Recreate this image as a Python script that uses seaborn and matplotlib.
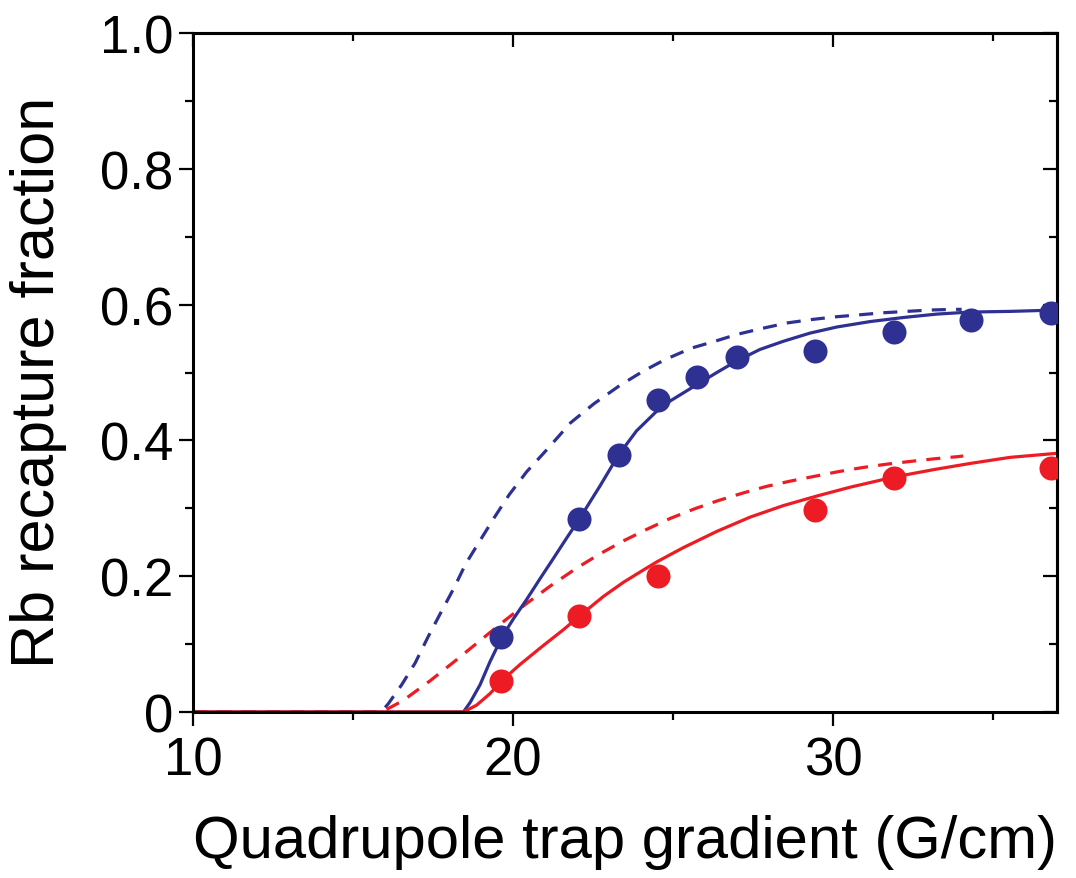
import numpy as np
import pandas as pd
import matplotlib
matplotlib.use("Agg")
import matplotlib.pyplot as plt
from matplotlib.ticker import FixedLocator, FuncFormatter
import seaborn as sns

# ---- data ----
blue_pts_x = [19.63, 22.06, 23.31, 24.53, 25.75, 27.0, 29.44, 31.9, 34.3, 36.8]
blue_pts_y = [0.110, 0.284, 0.378, 0.459, 0.494, 0.523, 0.532, 0.560, 0.577, 0.588]
red_pts_x = [19.63, 22.06, 24.53, 29.44, 31.9, 36.8]
red_pts_y = [0.046, 0.141, 0.200, 0.297, 0.345, 0.360]

blue_fit_x = [10.0, 18.45, 18.66, 18.97, 19.28, 19.65, 20.01, 20.43, 20.84, 21.26, 21.66,
              22.07, 22.72, 23.29, 23.86, 24.49, 24.91, 25.74, 26.37, 26.99, 27.72, 28.45,
              29.28, 30.12, 31.16, 32.2, 33.24, 34.28, 35.53, 37.0]
blue_fit_y = [0.0, 0.0, 0.014, 0.040, 0.074, 0.110, 0.137, 0.166, 0.196, 0.226, 0.255,
              0.284, 0.333, 0.378, 0.414, 0.443, 0.458, 0.482, 0.500, 0.517, 0.534, 0.546,
              0.558, 0.567, 0.575, 0.581, 0.586, 0.589, 0.590, 0.592]
red_fit_x = [10.0, 18.45, 18.86, 19.28, 19.65, 20.22, 20.95, 21.57, 22.07, 22.82, 23.45,
             24.07, 24.49, 25.32, 26.37, 27.41, 28.45, 29.49, 30.53, 31.9, 33.15, 34.28,
             35.53, 37.0]
red_fit_y = [0.0, 0.0, 0.010, 0.027, 0.046, 0.070, 0.098, 0.121, 0.141, 0.170, 0.191,
             0.209, 0.221, 0.242, 0.266, 0.287, 0.304, 0.318, 0.331, 0.346, 0.357, 0.366,
             0.375, 0.381]
blue_dash_x = [10.0, 15.88, 16.1, 16.52, 16.94, 17.35, 17.74, 18.16, 18.52, 18.99, 19.41,
               19.88, 20.43, 21.07, 21.80, 22.53, 23.34, 24.07, 24.75, 25.58, 26.31, 26.99,
               27.79, 28.57, 29.33, 30.08, 30.84, 31.57, 32.3, 33.03, 33.78, 34.02]
blue_dash_y = [0.0, 0.0, 0.012, 0.040, 0.072, 0.111, 0.146, 0.183, 0.218, 0.254, 0.286,
               0.320, 0.354, 0.387, 0.426, 0.454, 0.481, 0.502, 0.519, 0.536, 0.546, 0.556,
               0.565, 0.573, 0.578, 0.582, 0.585, 0.588, 0.590, 0.592, 0.593, 0.593]
red_dash_x = [10.0, 15.9, 16.57, 17.41, 18.16, 18.94, 19.67, 20.43, 21.18, 21.99, 22.72,
              23.45, 24.18, 24.91, 25.66, 26.39, 27.15, 27.9, 28.66, 29.41, 30.17, 30.92,
              31.68, 32.41, 33.19, 33.88, 34.07]
red_dash_y = [0.0, 0.0, 0.017, 0.046, 0.074, 0.104, 0.132, 0.160, 0.186, 0.212, 0.233,
              0.252, 0.269, 0.285, 0.299, 0.311, 0.322, 0.332, 0.340, 0.347, 0.354, 0.360,
              0.365, 0.369, 0.373, 0.376, 0.377]

x_ticks = [10, 20, 30]
x_minor = [15, 25, 35]
y_ticks = [0.0, 0.2, 0.4, 0.6, 0.8, 1.0]
y_minor = [0.1, 0.3, 0.5, 0.7, 0.9]

BLUE = "#2E3192"
RED = "#ED1C24"

sns.set_style("white")
plt.rcParams["font.family"] = ["Liberation Sans", "DejaVu Sans"]
plt.rcParams["text.color"] = "black"
plt.rcParams["axes.labelcolor"] = "black"
plt.rcParams["xtick.color"] = "black"
plt.rcParams["ytick.color"] = "black"
plt.rcParams["lines.solid_joinstyle"] = "round"
plt.rcParams["lines.dash_joinstyle"] = "round"

fig = plt.figure(figsize=(10.76, 8.79), dpi=100)
ax = fig.add_axes([193 / 1076, 1 - 713 / 879, (1057 - 193) / 1076, (713 - 34) / 879])

lw = 2.3
for xs, ys, col, ls in [(blue_dash_x, blue_dash_y, BLUE, (0, (4.4, 3.2))),
                        (red_dash_x, red_dash_y, RED, (0, (4.4, 3.2))),
                        (blue_fit_x, blue_fit_y, BLUE, "-"),
                        (red_fit_x, red_fit_y, RED, "-")]:
    df = pd.DataFrame({"x": xs, "y": ys})
    sns.lineplot(data=df, x="x", y="y", ax=ax, color=col, lw=lw, linestyle=ls,
                 sort=False, estimator=None)

sns.scatterplot(x=blue_pts_x, y=blue_pts_y, ax=ax, color=BLUE, s=300, linewidth=0, zorder=5)
sns.scatterplot(x=red_pts_x, y=red_pts_y, ax=ax, color=RED, s=300, linewidth=0, zorder=5)

ax.set_xlim(10, 37)
ax.set_ylim(0, 1.0)

for s in ax.spines.values():
    s.set_linewidth(2.2)
    s.set_color("black")
    s.set_visible(True)

ax.xaxis.set_major_locator(FixedLocator(x_ticks))
ax.xaxis.set_minor_locator(FixedLocator(x_minor))
ax.yaxis.set_major_locator(FixedLocator(y_ticks))
ax.yaxis.set_minor_locator(FixedLocator(y_minor))
ax.yaxis.set_major_formatter(FuncFormatter(lambda v, p: "0" if abs(v) < 1e-9 else f"{v:.1f}"))
ax.xaxis.set_major_formatter(FuncFormatter(lambda v, p: f"{v:.0f}"))

ax.tick_params(which="major", direction="out", length=10, width=1.6, labelsize=38,
               pad=4, color="black", labelcolor="black", left=True, bottom=True)
ax.tick_params(which="minor", direction="out", length=5.5, width=1.6, left=True, bottom=True)
ax.tick_params(axis="x", which="major", pad=7)

# top and right axes with inward ticks
top = ax.secondary_xaxis("top")
top.xaxis.set_major_locator(FixedLocator(x_ticks))
top.xaxis.set_minor_locator(FixedLocator(x_minor))
top.tick_params(which="major", direction="in", length=10, width=1.6, labeltop=False)
top.tick_params(which="minor", direction="in", length=5.5, width=1.6)
top.spines["top"].set_linewidth(2.2)

right = ax.secondary_yaxis("right")
right.yaxis.set_major_locator(FixedLocator(y_ticks))
right.yaxis.set_minor_locator(FixedLocator(y_minor))
right.tick_params(which="major", direction="in", length=10, width=1.6, labelright=False)
right.tick_params(which="minor", direction="in", length=5.5, width=1.6)
right.spines["right"].set_linewidth(2.2)

ax.set_xlabel("Quadrupole trap gradient (G/cm)", fontsize=43, color="black")
ax.set_ylabel("Rb recapture fraction", fontsize=44, color="black")
ax.xaxis.set_label_coords(0.5, -0.150)
ax.yaxis.set_label_coords(-0.146, 0.487)

fig.savefig("out.png", dpi=100)
